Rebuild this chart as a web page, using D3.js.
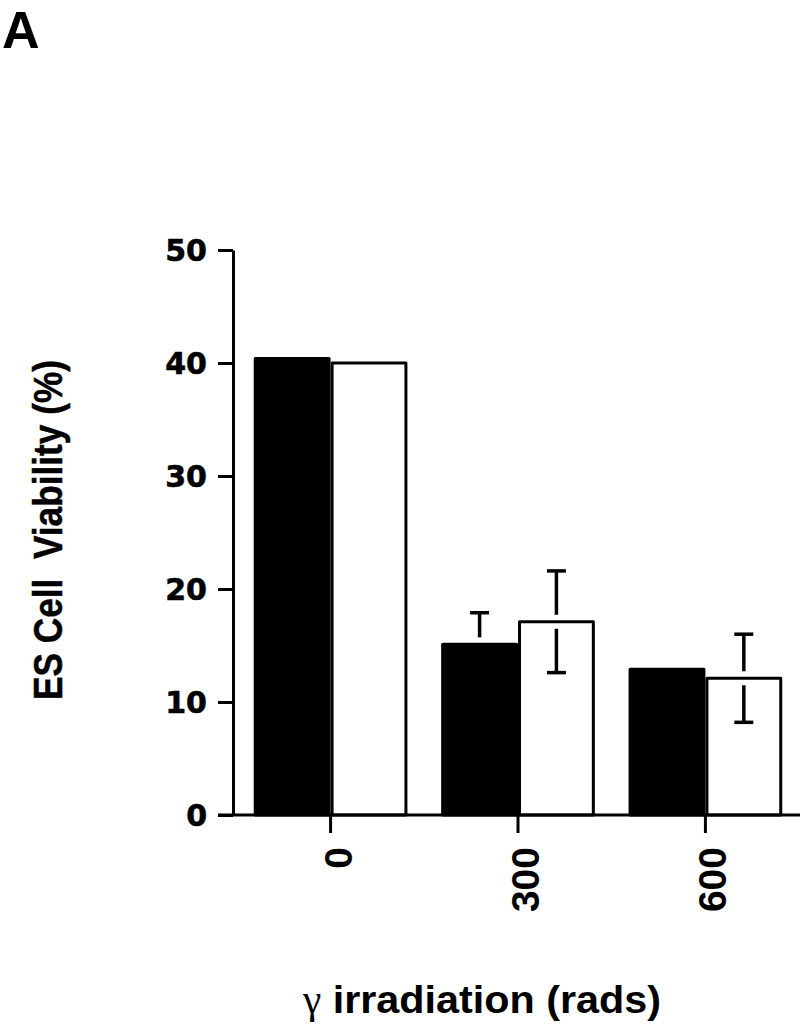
<!DOCTYPE html>
<html><head><meta charset="utf-8">
<script src="https://cdn.jsdelivr.net/npm/d3@7/dist/d3.min.js"></script>
<style>body{margin:0;background:#fff}svg{display:block}</style>
</head><body>
<svg id="chart" width="800" height="1027"></svg>
<script>
const doses = ["0", "300", "600"];
const seriesNames = ["black", "white"];
const blackValues = [40.4, 15.1, 12.9];
const whiteValues = [40.0, 17.1, 12.1];
const blackErr = [0, 2.8, 0];
const whiteErr = [0, 4.5, 3.9];
const yTicks = [0, 10, 20, 30, 40, 50];

const svg = d3.select("#chart");
const x0 = d3.scaleBand().domain(doses).range([235, 801]).paddingInner(0.18).paddingOuter(0.1);
const x1 = d3.scaleBand().domain(seriesNames).range([0, x0.bandwidth()]);
const y = d3.scaleLinear().domain([0, 50]).range([815, 250]);

const rows = doses.map((d, i) => ({dose: d, vals: [
  {s: "black", v: blackValues[i], e: blackErr[i]},
  {s: "white", v: whiteValues[i], e: whiteErr[i]}]}));

// bars
const g = svg.append("g");
rows.forEach(r => {
  r.vals.forEach(b => {
    const bx = x0(r.dose) + x1(b.s);
    g.append("rect")
      .attr("x", bx + 1.5).attr("y", y(b.v))
      .attr("width", x1.bandwidth() - 3).attr("height", y(0) - y(b.v))
      .attr("fill", b.s === "black" ? "#000" : "#fff")
      .attr("stroke", "#000").attr("stroke-width", 3)
      .attr("stroke-linejoin", "round");
    if (b.e > 0) {
      const cx = bx + x1.bandwidth() / 2;
      const top = y(b.v + b.e), bot = y(b.v - b.e), bt = y(b.v);
      const gap = 7;
      g.append("line").attr("x1", cx).attr("x2", cx).attr("y1", top).attr("y2", bt - gap)
        .attr("stroke", "#000").attr("stroke-width", 3.5);
      g.append("line").attr("x1", cx - 9.5).attr("x2", cx + 9.5).attr("y1", top).attr("y2", top)
        .attr("stroke", "#000").attr("stroke-width", 3.5);
      if (b.s === "white") {
        g.append("line").attr("x1", cx).attr("x2", cx).attr("y1", bt + gap).attr("y2", bot)
          .attr("stroke", "#000").attr("stroke-width", 3.5);
        g.append("line").attr("x1", cx - 9.5).attr("x2", cx + 9.5).attr("y1", bot).attr("y2", bot)
          .attr("stroke", "#000").attr("stroke-width", 3.5);
      }
    }
  });
});

// y axis
const yAxis = svg.append("g").attr("transform", "translate(233,0)")
  .call(d3.axisLeft(y).tickValues(yTicks).tickSize(15).tickSizeOuter(0).tickPadding(11));
yAxis.select(".domain").attr("stroke-width", 3);
yAxis.selectAll(".tick line").attr("stroke-width", 3);
yAxis.selectAll(".tick text").attr("font-family", "DejaVu Sans").attr("font-weight", "bold")
  .attr("font-size", 30).attr("fill", "#000").attr("dy", "0.36em")
  .attr("stroke", "#000").attr("stroke-width", 0.6);

// x axis
const xAxis = svg.append("g").attr("transform", "translate(0,815)")
  .call(d3.axisBottom(x0).tickSize(18).tickSizeOuter(0));
xAxis.select(".domain").remove();
xAxis.append("line").attr("x1", 218).attr("x2", 800).attr("y1", 0).attr("y2", 0)
  .attr("stroke", "#000").attr("stroke-width", 3);
xAxis.selectAll(".tick line").attr("stroke-width", 3);
xAxis.selectAll(".tick text")
  .attr("font-family", "Liberation Sans").attr("font-weight", "bold").attr("font-size", 39)
  .attr("fill", "#000").attr("text-anchor", "end").attr("dy", null).attr("y", null)
  .attr("transform", "translate(21,32) rotate(-90)");

// y title
svg.append("text").attr("transform", "translate(62,530) rotate(-90)")
  .attr("text-anchor", "middle").attr("font-family", "Liberation Sans").attr("font-weight", "bold")
  .attr("font-size", 41).attr("textLength", 340).attr("lengthAdjust", "spacingAndGlyphs")
  .attr("stroke", "#000").attr("stroke-width", 0.5)
  .style("white-space", "pre").text("ES Cell  Viability (%)");

// x title
const xt = svg.append("text").attr("x", 303).attr("y", 1013)
  .attr("font-family", "Liberation Sans").attr("font-weight", "bold").attr("font-size", 39)
  .attr("textLength", 358).attr("lengthAdjust", "spacingAndGlyphs").style("white-space", "pre");
xt.append("tspan").attr("font-family", "Liberation Serif").attr("font-weight", "normal").text("γ");
xt.append("tspan").text(" irradiation (rads)");

// panel letter
svg.append("text").attr("x", 2).attr("y", 48).attr("font-family", "Liberation Sans")
  .attr("font-weight", "bold").attr("font-size", 52).text("A");
</script>
</body></html>
